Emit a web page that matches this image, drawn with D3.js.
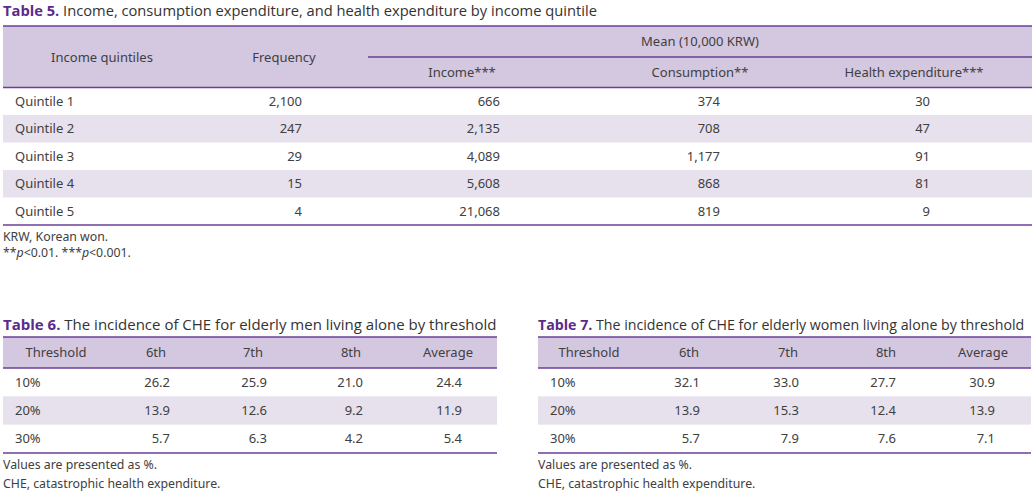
<!DOCTYPE html>
<html><head><meta charset="utf-8">
<script src="https://cdn.jsdelivr.net/npm/d3@7"></script>
<style>
body{margin:0;background:#fff}
svg text{font-family:"Noto Sans","Open Sans",sans-serif;fill:#404040}
</style>
</head><body>
<svg id="chart" width="1036" height="498"></svg>
<script>
// ---------- data ----------
const quintiles = ["Quintile 1","Quintile 2","Quintile 3","Quintile 4","Quintile 5"];
const frequency = [2100, 247, 29, 15, 4];
const income = [666, 2135, 4089, 5608, 21068];
const consumption = [374, 708, 1177, 868, 819];
const health = [30, 47, 91, 81, 9];
const t5Headers = ["Income quintiles","Frequency","Mean (10,000 KRW)","Income***","Consumption**","Health expenditure***"];

const thresholds = ["10%","20%","30%"];
const ranks = ["6th","7th","8th","Average"];
const men6 = [26.2, 13.9, 5.7];
const men7 = [25.9, 12.6, 6.3];
const men8 = [21.0, 9.2, 4.2];
const menAvg = [24.4, 11.9, 5.4];
const women6 = [32.1, 13.9, 5.7];
const women7 = [33.0, 15.3, 7.9];
const women8 = [27.7, 12.4, 7.6];
const womenAvg = [30.9, 13.9, 7.1];

// ---------- style ----------
const HEAD_FILL = "#d4c7e0", BAND_FILL = "#e7e1ee", LINE = "#6a3f98", TITLE_COL = "#5b2b8c";
const svg = d3.select("#chart");
const fmtInt = d3.format(",");
const fmt1 = d3.format(".1f");

function title(x, y, bold, rest, size){
  const t = svg.append("text").attr("x", x).attr("y", y)
    .style("font-family", '"Open Sans",sans-serif').style("font-size", size + "px");
  t.append("tspan").text(bold).style("font-weight", "700").style("fill", TITLE_COL);
  t.append("tspan").text(" " + rest).style("fill", "#333");
}
function hline(x1, x2, y, w, c){
  svg.append("line").attr("x1", x1).attr("x2", x2).attr("y1", y).attr("y2", y)
    .attr("stroke", c || LINE).attr("stroke-width", w || 1.5);
}
function txt(x, y, s, anchor, size){
  return svg.append("text").attr("x", x).attr("y", y).attr("text-anchor", anchor || "middle")
    .style("font-size", (size || 13) + "px").text(s);
}

// ---------- Table 5 ----------
title(3, 15.5, "Table 5.", "Income, consumption expenditure, and health expenditure by income quintile", 14.7);
const t5 = {left: 3, right: 1032, top: 26, mid: 57, head: 87.5, bottom: 225};
svg.append("rect").attr("x", t5.left).attr("y", t5.top).attr("width", t5.right - t5.left)
  .attr("height", t5.head - t5.top).attr("fill", HEAD_FILL);
const y5 = d3.scaleBand().domain(quintiles).range([t5.head, t5.bottom]);
svg.selectAll("rect.band5").data(quintiles.filter((d, i) => i % 2 === 1)).join("rect")
  .attr("class", "band5").attr("x", t5.left).attr("width", t5.right - t5.left)
  .attr("y", d => y5(d)).attr("height", y5.bandwidth()).attr("fill", BAND_FILL);
hline(t5.left, t5.right, t5.top);
hline(368, t5.right, t5.mid);
hline(t5.left, t5.right, t5.head);
hline(t5.left, t5.right, t5.bottom, 1.3);

txt(102, 61.5, t5Headers[0]);
txt(284, 61.5, t5Headers[1]);
txt(700, 46, t5Headers[2]);
txt(462, 76.5, t5Headers[3]);
txt(700, 76.5, t5Headers[4]);
txt(914, 76.5, t5Headers[5]);

const x5 = d3.scaleOrdinal().domain(["freq","inc","con","hea"]).range([302, 500, 720, 930]);
const cols5 = [["freq", frequency], ["inc", income], ["con", consumption], ["hea", health]];
quintiles.forEach((q, i) => {
  const cy = y5(q) + y5.bandwidth() / 2 + 4.5;
  txt(15, cy, q, "start");
  cols5.forEach(([k, arr]) => txt(x5(k), cy, fmtInt(arr[i]), "end"));
});
txt(3, 241, "KRW, Korean won.", "start", 12.3);
const fn = svg.append("text").attr("x", 3).attr("y", 257).style("font-size", "12.3px");
fn.append("tspan").text("**");
fn.append("tspan").text("p").style("font-style", "italic");
fn.append("tspan").text("<0.01. ***");
fn.append("tspan").text("p").style("font-style", "italic");
fn.append("tspan").text("<0.001.");

// ---------- Tables 6 & 7 ----------
function smallTable(left, right, label, rest, tSize, series, headCenters, rightEdges){
  title(left, 330, label, rest, tSize);
  const top = 337, head = 368, bottom = 453;
  svg.append("rect").attr("x", left).attr("y", top).attr("width", right - left)
    .attr("height", head - top).attr("fill", HEAD_FILL);
  const y = d3.scaleBand().domain(thresholds).range([head, bottom]);
  svg.selectAll(null).data(thresholds.filter((d, i) => i % 2 === 1)).join("rect")
    .attr("x", left).attr("width", right - left)
    .attr("y", d => y(d)).attr("height", y.bandwidth()).attr("fill", BAND_FILL);
  hline(left, right, top);
  hline(left, right, head);
  hline(left, right, bottom, 1.3);
  const hx = d3.scaleOrdinal().domain(["Threshold"].concat(ranks)).range(headCenters.map(v => left + v));
  ["Threshold"].concat(ranks).forEach(h => txt(hx(h), 357, h));
  const vx = d3.scaleOrdinal().domain(ranks).range(rightEdges.map(v => left + v));
  thresholds.forEach((t, i) => {
    const cy = y(t) + y.bandwidth() / 2 + 4.5;
    txt(left + 12, cy, t, "start");
    ranks.forEach((r, j) => txt(vx(r), cy, fmt1(series[j][i]), "end"));
  });
  txt(left, 469, "Values are presented as %.", "start", 12.3);
  txt(left, 488, "CHE, catastrophic health expenditure.", "start", 12.3);
}
smallTable(3, 497, "Table 6.", "The incidence of CHE for elderly men living alone by threshold", 15.0,
  [men6, men7, men8, menAvg], [53, 153, 250, 348, 445], [167, 264, 360, 459]);
smallTable(538, 1031, "Table 7.", "The incidence of CHE for elderly women living alone by threshold", 14.2,
  [women6, women7, women8, womenAvg], [51, 151, 250, 348, 445], [162, 261, 358, 457]);
</script>
</body></html>
